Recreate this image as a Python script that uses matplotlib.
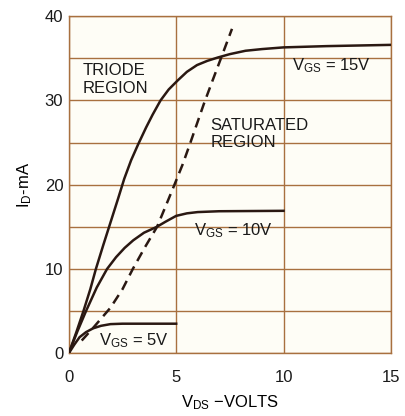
import matplotlib
matplotlib.use('Agg')
from matplotlib import pyplot as plt

plt.rcParams['font.family'] = ['Liberation Sans', 'DejaVu Sans']
plt.rcParams['mathtext.fontset'] = 'custom'
plt.rcParams['mathtext.rm'] = 'Liberation Sans'
plt.rcParams['mathtext.it'] = 'Liberation Sans'

# drain curves (V_DS in volts, I_D in mA)
vds_15 = [0, 0.35, 0.68, 1.0, 1.26, 1.6, 2.0, 2.3, 2.58, 2.9, 3.23, 3.6, 3.9, 4.27, 4.65,
          5.08, 5.5, 5.97, 6.45, 6.94, 7.5, 8.23, 9, 10, 12, 15]
id_15 = [0, 2.5, 5, 7.6, 10, 12.8, 16, 18.4, 20.7, 22.9, 24.8, 26.8, 28.3, 30, 31.3,
         32.4, 33.4, 34.2, 34.7, 35.1, 35.5, 35.9, 36.1, 36.3, 36.45, 36.6]

vds_10 = [0, 0.4, 0.8, 1.3, 1.78, 2.2, 2.6, 3.0, 3.5, 4.1, 4.5, 5, 5.5, 6, 7, 10]
id_10 = [0, 2.6, 5, 7.8, 10, 11.4, 12.5, 13.4, 14.3, 15.0, 15.6, 16.3, 16.6, 16.75, 16.85, 16.9]

vds_5 = [0, 0.25, 0.5, 0.8, 1.13, 1.5, 1.94, 2.5, 5]
id_5 = [0, 1.0, 1.9, 2.5, 2.95, 3.25, 3.45, 3.5, 3.5]

# boundary between triode and saturated regions
vds_edge = [0.6, 1.13, 1.94, 2.5, 2.98, 3.55, 4.11, 4.55, 4.92, 5.3, 5.65, 6.29, 6.7, 7.1, 7.6]
id_edge = [1.5, 3.0, 5.4, 7.6, 10, 12.6, 15, 17.7, 20, 22.4, 24.9, 29.6, 32.4, 35.1, 38.5]

xticks = [0, 5, 10, 15]
yticks = [0, 10, 20, 30, 40]

grid_col = '#a8703f'
ink = '#2a1812'

fig = plt.figure(figsize=(4.05, 4.16), dpi=100)
ax = fig.add_axes([0.170, 0.151, 0.795, 0.810])
ax.set_facecolor('#fefdf6')

ax.set_xlim(0, 15)
ax.set_ylim(0, 40)
ax.set_xticks(xticks)
ax.set_yticks(yticks)
ax.set_yticks(range(0, 41, 5), minor=True)
ax.grid(True, which='both', color=grid_col, lw=1.0)
ax.tick_params(which='both', length=0, labelsize=12, colors='#1a1a1a')
ax.tick_params(axis='x', pad=12)
ax.tick_params(axis='y', pad=4)
for s in ax.spines.values():
    s.set_color(grid_col)
    s.set_linewidth(1.0)

ax.plot(vds_15, id_15, color=ink, lw=1.8, zorder=3, solid_joinstyle='round')
ax.plot(vds_10, id_10, color=ink, lw=1.8, zorder=3, solid_joinstyle='round')
ax.plot(vds_5, id_5, color=ink, lw=1.8, zorder=3, solid_joinstyle='round')
ax.plot(vds_edge, id_edge, color=ink, lw=1.8, ls=(0, (4, 2.5)), zorder=3)

ax.text(0.65, 32.5, 'TRIODE\nREGION', fontsize=12, color='#1a1a1a',
        va='center', ha='left', linespacing=1.2)
ax.text(6.6, 26.0, 'SATURATED\nREGION', fontsize=12, color='#1a1a1a',
        va='center', ha='left', linespacing=1.2)
ax.text(10.4, 33.6, r'V$_{\rm GS}$ = 15V', fontsize=12, color='#1a1a1a')
ax.text(5.85, 14.0, r'V$_{\rm GS}$ = 10V', fontsize=12, color='#1a1a1a')
ax.text(1.4, 0.9, r'V$_{\rm GS}$ = 5V', fontsize=12, color='#1a1a1a')

ax.set_xlabel(r'V$_{\rm DS}$ $-$VOLTS', fontsize=12, labelpad=6)
ax.set_ylabel(r'I$_{\rm D}$-mA', fontsize=12, labelpad=8)

fig.savefig('out.png', dpi=100, facecolor='white')
